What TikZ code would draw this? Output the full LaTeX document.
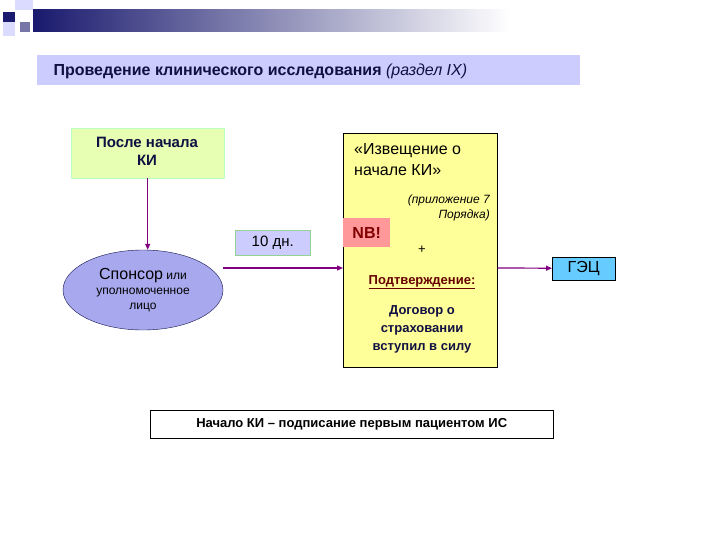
\documentclass[tikz,border=0pt]{standalone}
\usepackage{fontspec}
\setmainfont{Liberation Sans}
\usetikzlibrary{shapes.geometric,arrows.meta}
\definecolor{navy}{HTML}{1A1A6E}
\definecolor{lav}{HTML}{CCCCFF}
\definecolor{purp}{HTML}{800080}
\definecolor{ell}{HTML}{A8A8EE}
\definecolor{sky}{HTML}{66CCFF}
\definecolor{lgreen}{HTML}{E6FFB3}
\definecolor{ylw}{HTML}{FFFF99}
\begin{document}
\begin{tikzpicture}[x=1pt,y=-1pt,
  conn/.style={purp,line width=1.2pt,-{Triangle[length=6pt,width=5pt]}},
  txt/.style={text=black,align=center,inner sep=0pt}]
\useasboundingbox (0,0) rectangle (720,540);
\fill[white] (0,0) rectangle (720,540);
% decoration
\fill[lav!70!white] (15,0) rectangle (33,10);
\fill[lav!70!white] (3,22) rectangle (15,36);
\fill[navy!60!white] (20,22) rectangle (30,32);
\fill[navy] (3,12) rectangle (15,22);
\shade[left color=navy,right color=white] (33,10) rectangle (510,32);
% title
\node[fill=lav,minimum width=543pt,minimum height=30pt,anchor=north west,inner sep=0pt] (title) at (37,55) {};
\node[anchor=west,text=navy!60!black,font=\bfseries\fontsize{16}{18}\selectfont] at (50,71) {Проведение клинического исследования \mdseries\itshape (раздел IX)};
% after start
\node[fill=lgreen,draw=green!25!white,minimum width=153pt,minimum height=50pt,anchor=north west] (after) at (71,128) {};
\node[txt,text=navy!60!black,font=\bfseries\fontsize{15}{18}\selectfont] at (147,151) {После начала\\КИ};
% sponsor
\node[ellipse,draw=navy!70!black,fill=ell,minimum width=160pt,minimum height=80pt] (sp) at (143,290) {};
\node[txt,font=\fontsize{12}{15}\selectfont] at (143,290) {{\fontsize{16}{18}\selectfont Спонсор} или\\уполномоченное\\лицо};
% yellow box
\node[fill=ylw,draw=black,minimum width=154pt,minimum height=234pt,anchor=north west] (yb) at (343,133) {};
\node[txt,align=left,anchor=north west,font=\fontsize{16}{21}\selectfont] at (354,143) {«Извещение о\\начале КИ»};
\node[txt,align=right,anchor=north east,font=\itshape\fontsize{12}{15}\selectfont] at (490,195) {(приложение 7\\Порядка)};
\node[fill=red!40!white,minimum width=47pt,minimum height=29pt,anchor=north west,inner sep=0pt,text=red!50!black,font=\bfseries\fontsize{16}{18}\selectfont] (nb) at (343,218) {NB!};
\node[txt,font=\fontsize{13}{14}\selectfont] at (422,250) {+};
\node[txt,text=red!40!black,font=\bfseries\fontsize{13}{14}\selectfont] at (422,282) {\underline{Подтверждение:}};
\node[txt,text=navy!60!black,font=\bfseries\fontsize{13}{18}\selectfont] at (422,329) {Договор о\\страховании\\вступил в силу};
% 10 days
\node[fill=lav,draw=green!40!gray!60!white,minimum width=75pt,minimum height=25pt,anchor=north west,inner sep=0pt,font=\fontsize{15}{16}\selectfont] (ten) at (235,230) {10 дн.};
% GEC
\node[fill=sky,draw=black,minimum width=63pt,minimum height=23pt,anchor=north west,inner sep=0pt,font=\fontsize{16}{16}\selectfont] (gec) at (552,256.5) {ГЭЦ};
% bottom
\node[draw=black,fill=white,minimum width=403pt,minimum height=28pt,anchor=north west,inner sep=0pt] (bot) at (150,410) {};
\node[font=\bfseries\fontsize{13}{14}\selectfont] at (bot.center) {Начало КИ – подписание первым пациентом ИС};
% connectors
\draw[conn] (after.south) -- (sp.north -| after.south);
\draw[conn] (sp.east |- 0,268) -- (yb.west |- 0,268);
\draw[conn] (yb.east |- 0,268) -- (gec.west);
\end{tikzpicture}
\end{document}
